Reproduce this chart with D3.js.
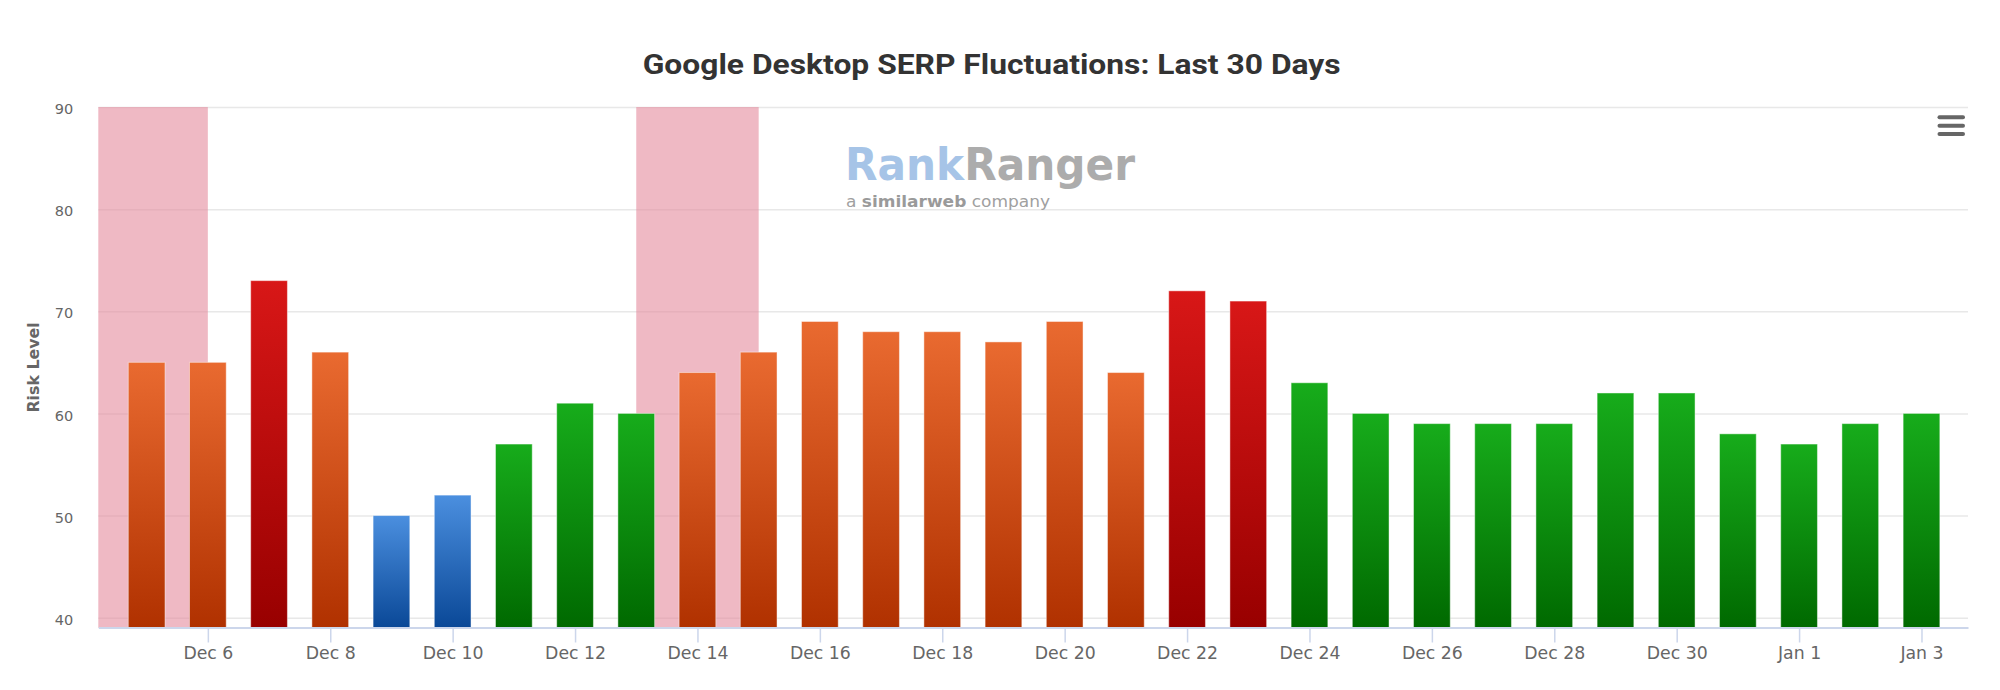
<!DOCTYPE html>
<html>
<head>
<meta charset="utf-8">
<script src="https://cdnjs.cloudflare.com/ajax/libs/d3/7.8.5/d3.min.js"></script>
<style>
  html, body { margin: 0; padding: 0; background: #ffffff; }
  svg { display: block; }
</style>
</head>
<body>
<svg id="chart" width="2000" height="690"></svg>
<script>
// ---------------- DATA ----------------
const dates = [
  "2021-12-05","2021-12-06","2021-12-07","2021-12-08","2021-12-09","2021-12-10",
  "2021-12-11","2021-12-12","2021-12-13","2021-12-14","2021-12-15","2021-12-16",
  "2021-12-17","2021-12-18","2021-12-19","2021-12-20","2021-12-21","2021-12-22",
  "2021-12-23","2021-12-24","2021-12-25","2021-12-26","2021-12-27","2021-12-28",
  "2021-12-29","2021-12-30","2021-12-31","2022-01-01","2022-01-02","2022-01-03"
];
const riskValues = [
  65, 65, 73, 66, 50, 52, 57, 61, 60, 64,
  66, 69, 68, 68, 67, 69, 64, 72, 71, 63,
  60, 59, 59, 59, 62, 62, 58, 57, 59, 60
];
const tickDates = [
  "2021-12-06","2021-12-08","2021-12-10","2021-12-12","2021-12-14","2021-12-16",
  "2021-12-18","2021-12-20","2021-12-22","2021-12-24","2021-12-26","2021-12-28",
  "2021-12-30","2022-01-01","2022-01-03"
];
const tickLabels = [
  "Dec 6","Dec 8","Dec 10","Dec 12","Dec 14","Dec 16","Dec 18","Dec 20",
  "Dec 22","Dec 24","Dec 26","Dec 28","Dec 30","Jan 1","Jan 3"
];
const yTickValues = [40, 50, 60, 70, 80, 90];
const bandFrom = ["2021-12-04", "2021-12-13"];
const bandTo   = ["2021-12-06", "2021-12-15"];
const titleText = "Google Desktop SERP Fluctuations: Last 30 Days";
const yAxisTitle = "Risk Level";

// ---------------- LAYOUT ----------------
const parse = d3.utcParse("%Y-%m-%d");
const DAY = 86400000;
const plotLeft = 98.3, plotRight = 1968, plotTop = 107, plotBottom = 627.9;

const svg = d3.select("#chart");
svg.append("rect").attr("width", 2000).attr("height", 690).attr("fill", "#ffffff");

const firstDate = parse(dates[0]), lastDate = parse(dates[dates.length - 1]);
const x = d3.scaleUtc()
  .domain([new Date(+firstDate - 0.79 * DAY), new Date(+lastDate + 0.76 * DAY)])
  .range([plotLeft, plotRight]);
const y = d3.scaleLinear().domain([39, 90]).range([plotBottom, plotTop]);
const step = x(parse(dates[1])) - x(parse(dates[0]));
const barW = step * 0.6;

// gradients
const defs = svg.append("defs");
const grads = {
  red:    ["#d81717", "#980000"],
  orange: ["#e96a30", "#b03100"],
  green:  ["#17ac1b", "#006900"],
  blue:   ["#4b8fdf", "#0a4897"]
};
Object.entries(grads).forEach(([k, c]) => {
  const g = defs.append("linearGradient").attr("id", "g-" + k)
    .attr("x1", 0).attr("y1", 0).attr("x2", 0).attr("y2", 1);
  g.append("stop").attr("offset", "0%").attr("stop-color", c[0]);
  g.append("stop").attr("offset", "100%").attr("stop-color", c[1]);
});
function level(v) {
  if (v < 55) return "blue";
  if (v < 64) return "green";
  if (v < 70) return "orange";
  return "red";
}
defs.append("clipPath").attr("id", "plotclip").append("rect")
  .attr("x", plotLeft).attr("y", plotTop).attr("width", plotRight - plotLeft).attr("height", plotBottom - plotTop);

// grid lines
const gridG = svg.append("g").attr("transform", `translate(${plotLeft},0)`)
  .call(d3.axisLeft(y).tickValues(yTickValues).tickSize(-(plotRight - plotLeft)).tickFormat(""));
gridG.select(".domain").remove();
gridG.selectAll(".tick line").attr("stroke", "#e8e8e8").attr("stroke-width", 1.5);

// plot bands
svg.append("g").attr("clip-path", "url(#plotclip)")
  .selectAll("rect").data(bandFrom.map((f, i) => [parse(f), parse(bandTo[i])]))
  .join("rect")
  .attr("x", d => x(d[0])).attr("width", d => x(d[1]) - x(d[0]))
  .attr("y", plotTop).attr("height", plotBottom - plotTop)
  .attr("fill", "#e48a9c").attr("fill-opacity", 0.6);

// y labels
const yAx = svg.append("g").attr("transform", `translate(${plotLeft},2)`)
  .call(d3.axisLeft(y).tickValues(yTickValues).tickSize(0).tickPadding(25));
yAx.select(".domain").remove();
yAx.selectAll("text").attr("fill", "#666666")
  .style("font-family", "'DejaVu Sans', sans-serif").style("font-size", "14.5px");

// bars
svg.append("g").selectAll("rect")
  .data(dates.map((d, i) => ({ date: parse(d), v: riskValues[i] })))
  .join("rect")
  .attr("x", d => x(d.date) - barW / 2)
  .attr("width", barW)
  .attr("y", d => y(d.v))
  .attr("height", d => y(39) - y(d.v))
  .attr("fill", d => `url(#g-${level(d.v)})`)
  .attr("stroke", "#ffffff").attr("stroke-opacity", 0.45).attr("stroke-width", 1);

// x axis
const xAx = svg.append("g").attr("transform", `translate(0,${plotBottom - 0.4})`)
  .call(d3.axisBottom(x).tickValues(tickDates.map(parse))
    .tickFormat((d, i) => tickLabels[i]).tickSize(15).tickSizeOuter(0).tickPadding(4.5));
xAx.select(".domain").attr("stroke", "#ccd6eb").attr("stroke-width", 1.8);
xAx.selectAll(".tick line").attr("stroke", "#ccd6eb").attr("stroke-width", 1.5);
xAx.selectAll("text").attr("fill", "#666666")
  .style("font-family", "'DejaVu Sans', sans-serif").style("font-size", "17.3px");

// y axis title
svg.append("text")
  .attr("transform", `translate(38.5,${(plotTop + plotBottom) / 2}) rotate(-90)`)
  .attr("text-anchor", "middle")
  .style("font-family", "'DejaVu Sans', sans-serif").style("font-weight", "bold").style("font-size", "15.8px")
  .attr("fill", "#666666").text(yAxisTitle);

// title
svg.append("text")
  .attr("x", 991.7).attr("y", 74.3).attr("text-anchor", "middle")
  .attr("textLength", 698).attr("lengthAdjust", "spacingAndGlyphs")
  .style("font-family", "Roboto, sans-serif").style("font-weight", "700").style("font-size", "28.5px")
  .attr("fill", "#333333").text(titleText);

// watermark logo
const logo = svg.append("g");
const lt = logo.append("text").attr("x", 845).attr("y", 180)
  .attr("textLength", 290).attr("lengthAdjust", "spacingAndGlyphs")
  .style("font-family", "'DejaVu Sans', sans-serif").style("font-weight", "700").style("font-size", "44px");
lt.append("tspan").attr("fill", "#a6c4e7").text("Rank");
lt.append("tspan").attr("fill", "#acacac").text("Ranger");
const st = logo.append("text").attr("x", 846).attr("y", 207)
  .attr("textLength", 204).attr("lengthAdjust", "spacingAndGlyphs")
  .style("font-family", "'DejaVu Sans', sans-serif").style("font-size", "15px").attr("fill", "#a0a0a0");
st.append("tspan").text("a ");
st.append("tspan").style("font-weight", "700").attr("fill", "#9a9a9a").text("similarweb");
st.append("tspan").text(" company");

// menu icon
const menu = svg.append("g").attr("stroke", "#666666").attr("stroke-width", 4).attr("stroke-linecap", "round");
[117.3, 125.7, 134].forEach(yy => {
  menu.append("line").attr("x1", 1939.5).attr("x2", 1963).attr("y1", yy).attr("y2", yy);
});
</script>
</body>
</html>
